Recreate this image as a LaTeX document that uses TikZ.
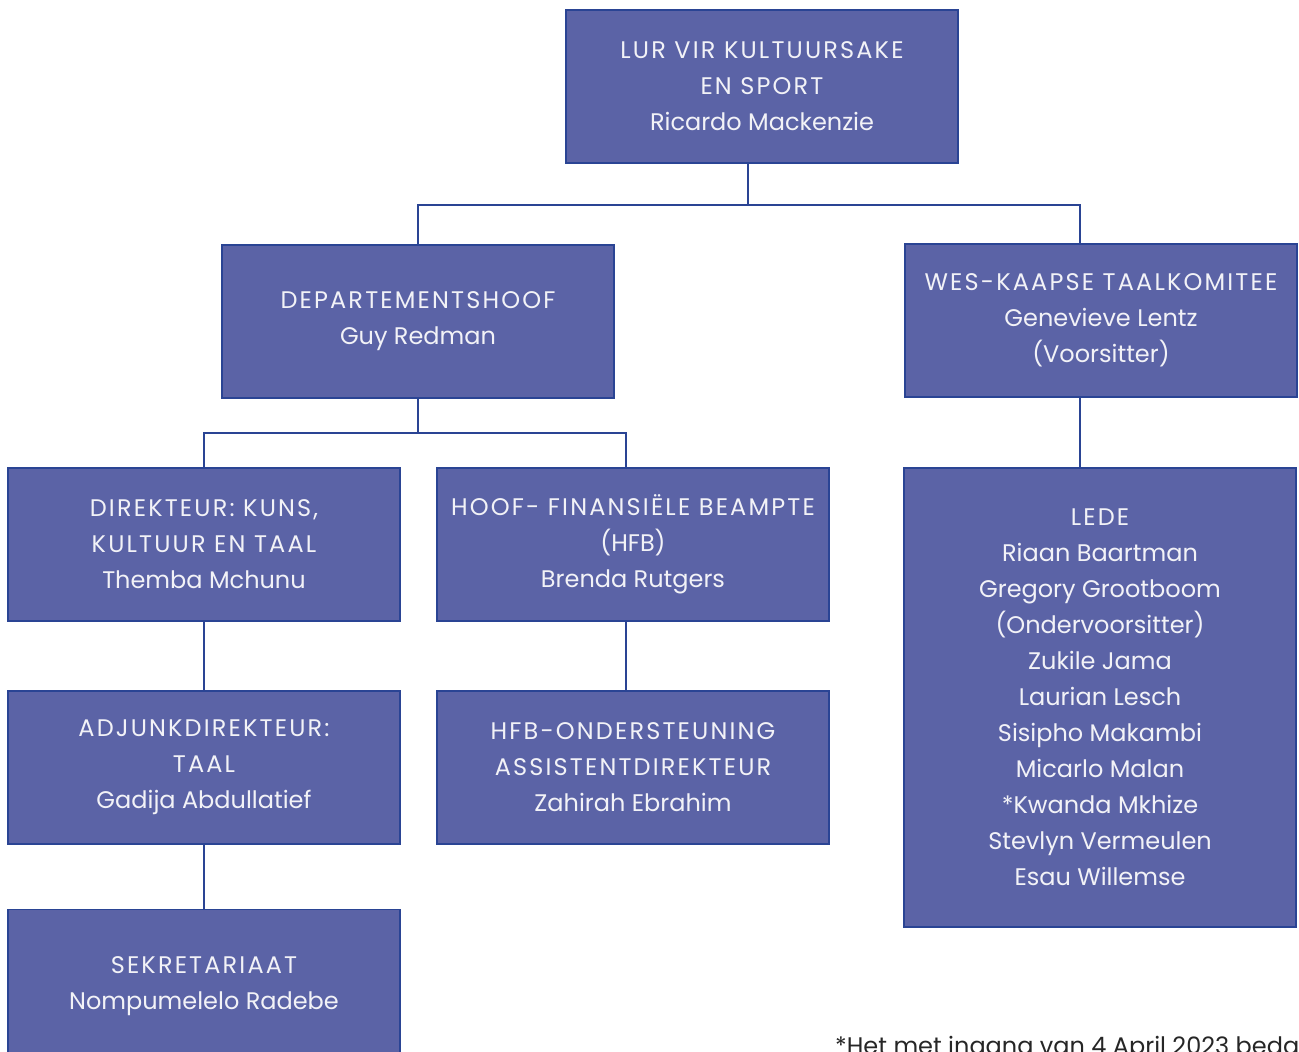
\documentclass[tikz,border=0pt]{standalone}
\usepackage{fontspec}
\setmainfont{Poppins}
\newcommand{\capsline}[1]{{\addfontfeature{LetterSpace=9}#1}}
\definecolor{boxfill}{HTML}{5B63A6}
\definecolor{boxline}{HTML}{2A4494}
\definecolor{boxtext}{HTML}{F2F2F7}
\begin{document}
\begin{tikzpicture}[x=1pt,y=-1pt,
  orgbox/.style={draw=boxline, line width=1.5pt, fill=boxfill, text=boxtext,
    minimum width=392pt, minimum height=153pt, inner sep=0pt, align=center,
    font=\fontsize{24}{36}\selectfont},
  conn/.style={draw=boxline, line width=2.4pt}]
\useasboundingbox (0,0) rectangle (1299,1052);
\clip (0,0) rectangle (1299,1052);
\node[orgbox] (lur) at (762,86.5) {\capsline{LUR VIR KULTUURSAKE}\\\capsline{EN SPORT}\\Ricardo Mackenzie};
\node[orgbox] (dept) at (418,321.5) {\capsline{DEPARTEMENTSHOOF}\\Guy Redman};
\node[orgbox] (wes) at (1101,320.5) {\capsline{WES-KAAPSE TAALKOMITEE}\\Genevieve Lentz\\(Voorsitter)};
\node[orgbox] (dir) at (204,544.5) {\capsline{DIREKTEUR: KUNS,}\\\capsline{KULTUUR EN TAAL}\\Themba Mchunu};
\node[orgbox] (hfb) at (633,544.5) {\capsline{HOOF- FINANSIËLE BEAMPTE}\\(HFB)\\Brenda Rutgers};
\node[orgbox] (adj) at (204,767.5) {\capsline{ADJUNKDIREKTEUR:}\\\capsline{TAAL}\\Gadija Abdullatief};
\node[orgbox] (hfbo) at (633,767.5) {\capsline{HFB-ONDERSTEUNING}\\\capsline{ASSISTENTDIREKTEUR}\\Zahirah Ebrahim};
\node[orgbox] (sek) at (204,986) {\capsline{SEKRETARIAAT}\\Nompumelelo Radebe};
\node[orgbox, minimum width=392pt, minimum height=459pt] (lede) at (1100,697.5)
  {\capsline{LEDE}\\Riaan Baartman\\Gregory Grootboom\\(Ondervoorsitter)\\Zukile Jama\\Laurian Lesch\\Sisipho Makambi\\Micarlo Malan\\*Kwanda Mkhize\\Stevlyn Vermeulen\\Esau Willemse};
\node[anchor=base west, inner sep=0pt, text=black!85, font=\fontsize{24}{36}\selectfont] (note) at (835,1054) {*Het met ingang van 4 April 2023 beda};
% connectors
\coordinate (j1) at (748,205);
\draw[conn] (lur.south -| j1) -- (j1);
\draw[conn] (dept.north) |- (j1) -| (wes.north -| 1080,0);
\coordinate (j2) at (418,433);
\draw[conn] (dept.south) -- (j2);
\draw[conn] (dir.north) |- (j2) -| (hfb.north -| 626,0);
\draw[conn] (dir.south) -- (adj.north);
\draw[conn] (hfb.south -| 626,0) -- (hfbo.north -| 626,0);
\draw[conn] (adj.south) -- (sek.north);
\draw[conn] (wes.south -| 1080,0) -- (lede.north -| 1080,0);
\end{tikzpicture}
\end{document}
